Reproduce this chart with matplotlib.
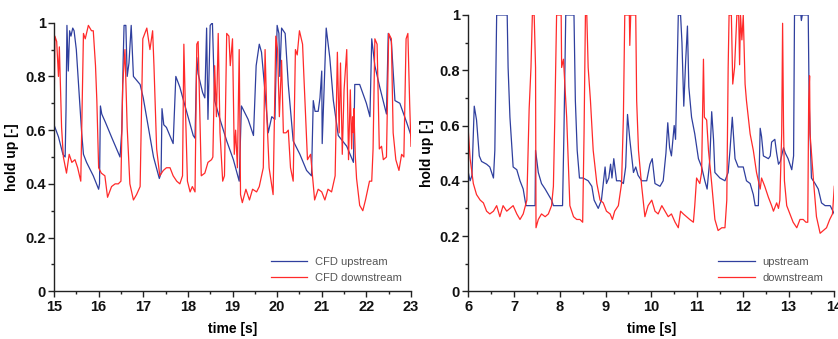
import matplotlib
matplotlib.use("Agg")
import matplotlib.pyplot as plt
from matplotlib.ticker import MultipleLocator

plt.rcParams['font.family'] = ['Liberation Sans', 'DejaVu Sans']

# ---------------- left panel data (CFD) ----------------
cfd_up_t = [15.00, 15.10, 15.20, 15.25, 15.27, 15.29, 15.32, 15.35, 15.38, 15.42, 15.45, 15.50,
            15.55, 15.62, 15.66, 15.73, 15.88, 16.00, 16.02, 16.04, 16.07, 16.15, 16.30, 16.48,
            16.52, 16.55, 16.57, 16.61, 16.64, 16.68, 16.73, 16.78, 16.93, 17.00, 17.23, 17.36,
            17.40, 17.42, 17.46, 17.52, 17.67, 17.73, 17.82, 17.97, 18.12, 18.16, 18.20, 18.23,
            18.33, 18.38, 18.42, 18.45, 18.50, 18.55, 18.60, 18.72, 18.87, 19.02, 19.15, 19.20,
            19.26, 19.35, 19.47, 19.53, 19.60, 19.65, 19.73, 19.80, 19.88, 19.95, 20.00, 20.04,
            20.06, 20.10, 20.18, 20.25, 20.36, 20.51, 20.66, 20.77, 20.81, 20.85, 20.92, 20.96,
            21.00, 21.01, 21.10, 21.18, 21.26, 21.37, 21.56, 21.71, 21.74, 21.85, 22.00, 22.08,
            22.12, 22.19, 22.30, 22.45, 22.49, 22.56, 22.64, 22.75, 22.90, 23.00]
cfd_up_v = [0.62, 0.575, 0.51, 0.50, 0.68, 0.99, 0.82, 0.97, 0.95, 0.98, 0.97, 0.90,
            0.77, 0.59, 0.51, 0.48, 0.43, 0.38, 0.40, 0.69, 0.66, 0.63, 0.57, 0.50,
            0.60, 0.86, 0.99, 0.99, 0.80, 0.85, 0.99, 0.80, 0.77, 0.72, 0.50, 0.42,
            0.44, 0.68, 0.62, 0.61, 0.55, 0.80, 0.76, 0.67, 0.58, 0.57, 0.87, 0.81,
            0.74, 0.72, 0.98, 0.64, 0.99, 1.00, 0.71, 0.64, 0.56, 0.49, 0.41, 0.69,
            0.67, 0.64, 0.58, 0.84, 0.92, 0.89, 0.74, 0.59, 0.65, 0.64, 0.99, 0.96,
            0.80, 0.98, 0.96, 0.77, 0.56, 0.51, 0.45, 0.43, 0.71, 0.67, 0.67, 0.72,
            0.82, 0.55, 0.98, 0.87, 0.71, 0.58, 0.54, 0.48, 0.77, 0.77, 0.70, 0.65,
            0.94, 0.84, 0.76, 0.66, 0.96, 0.93, 0.71, 0.70, 0.63, 0.58]

cfd_down_t = [15.00, 15.02, 15.06, 15.10, 15.12, 15.17, 15.21, 15.28, 15.34, 15.40, 15.47, 15.53,
              15.60, 15.66, 15.70, 15.77, 15.84, 15.88, 15.93, 15.96, 16.00, 16.06, 16.14, 16.20,
              16.29, 16.37, 16.44, 16.50, 16.54, 16.59, 16.64, 16.70, 16.78, 16.85, 16.93, 16.99,
              17.08, 17.15, 17.21, 17.24, 17.30, 17.37, 17.45, 17.52, 17.60, 17.67, 17.75, 17.82,
              17.88, 17.91, 17.94, 17.99, 18.05, 18.10, 18.16, 18.20, 18.23, 18.27, 18.30, 18.38,
              18.45, 18.53, 18.56, 18.60, 18.64, 18.68, 18.72, 18.78, 18.82, 18.87, 18.92, 18.95,
              19.00, 19.04, 19.07, 19.11, 19.15, 19.18, 19.22, 19.30, 19.38, 19.45, 19.54, 19.60,
              19.69, 19.73, 19.77, 19.82, 19.91, 19.97, 20.01, 20.05, 20.10, 20.14, 20.20, 20.25,
              20.30, 20.36, 20.41, 20.45, 20.50, 20.57, 20.60, 20.68, 20.75, 20.84, 20.92, 21.00,
              21.07, 21.14, 21.22, 21.30, 21.35, 21.39, 21.42, 21.46, 21.50, 21.56, 21.60, 21.64,
              21.67, 21.69, 21.71, 21.72, 21.75, 21.78, 21.85, 21.92, 21.98, 22.07, 22.12, 22.15,
              22.19, 22.24, 22.29, 22.34, 22.38, 22.45, 22.50, 22.56, 22.60, 22.66, 22.73, 22.79,
              22.84, 22.89, 22.93, 22.97, 23.00]
cfd_down_v = [0.63, 0.95, 0.93, 0.80, 0.91, 0.61, 0.50, 0.44, 0.51, 0.48, 0.49, 0.46,
              0.41, 0.96, 0.94, 0.99, 0.97, 0.97, 0.84, 0.71, 0.46, 0.44, 0.43, 0.35,
              0.39, 0.40, 0.40, 0.41, 0.77, 0.90, 0.61, 0.40, 0.34, 0.36, 0.39, 0.94,
              0.98, 0.90, 0.97, 0.84, 0.53, 0.43, 0.45, 0.46, 0.46, 0.43, 0.41, 0.40,
              0.43, 0.92, 0.71, 0.41, 0.37, 0.39, 0.37, 0.92, 0.93, 0.65, 0.43, 0.44,
              0.48, 0.49, 0.50, 0.84, 0.65, 0.96, 0.59, 0.41, 0.43, 0.96, 0.95, 0.84,
              0.94, 0.51, 0.60, 0.46, 0.90, 0.36, 0.33, 0.38, 0.34, 0.38, 0.37, 0.39,
              0.46, 0.90, 0.65, 0.46, 0.36, 0.95, 0.90, 0.65, 0.86, 0.59, 0.59, 0.60,
              0.46, 0.41, 0.90, 0.88, 0.97, 0.92, 0.80, 0.49, 0.51, 0.34, 0.38, 0.37,
              0.34, 0.38, 0.37, 0.43, 0.89, 0.59, 0.85, 0.51, 0.75, 0.90, 0.49, 0.75,
              0.53, 0.65, 0.59, 0.68, 0.51, 0.42, 0.32, 0.30, 0.34, 0.41, 0.41, 0.53,
              0.94, 0.92, 0.53, 0.54, 0.49, 0.50, 0.96, 0.94, 0.59, 0.49, 0.45, 0.51,
              0.50, 0.94, 0.96, 0.70, 0.54]

# ---------------- right panel data (experiment) ----------------
exp_up_t = [6.00, 6.04, 6.08, 6.13, 6.18, 6.24, 6.29, 6.40, 6.47, 6.51, 6.55, 6.58, 6.62,
            6.85, 6.87, 6.91, 6.98, 7.06, 7.13, 7.20, 7.26, 7.46, 7.47, 7.53, 7.60, 7.68,
            7.75, 7.82, 7.86, 8.06, 8.09, 8.13, 8.31, 8.34, 8.38, 8.43, 8.51, 8.62, 8.70,
            8.75, 8.84, 8.91, 8.99, 9.02, 9.07, 9.11, 9.14, 9.18, 9.24, 9.32, 9.39, 9.44,
            9.48, 9.53, 9.61, 9.66, 9.71, 9.79, 9.90, 9.97, 10.02, 10.08, 10.19, 10.26, 10.32,
            10.36, 10.40, 10.44, 10.50, 10.53, 10.55, 10.59, 10.64, 10.67, 10.71, 10.75, 10.79,
            10.82, 10.88, 10.95, 11.03, 11.10, 11.17, 11.22, 11.28, 11.32, 11.36, 11.39, 11.50,
            11.61, 11.68, 11.72, 11.77, 11.83, 11.90, 12.01, 12.08, 12.16, 12.23, 12.27, 12.34,
            12.38, 12.41, 12.45, 12.56, 12.60, 12.63, 12.70, 12.74, 12.78, 12.82, 12.89, 12.93,
            12.99, 13.07, 13.11, 13.13, 13.27, 13.28, 13.30, 13.43, 13.45, 13.50, 13.58, 13.65,
            13.72, 13.80, 13.91, 14.00]
exp_up_v = [0.43, 0.40, 0.42, 0.67, 0.62, 0.49, 0.47, 0.46, 0.45, 0.43, 0.41, 0.51, 1.00,
            1.00, 0.81, 0.63, 0.45, 0.44, 0.40, 0.37, 0.31, 0.31, 0.51, 0.43, 0.39, 0.37,
            0.35, 0.33, 0.31, 0.31, 0.57, 1.00, 1.00, 0.69, 0.51, 0.41, 0.41, 0.40, 0.38,
            0.33, 0.30, 0.33, 0.45, 0.39, 0.41, 0.46, 0.41, 0.48, 0.40, 0.40, 0.39, 0.45,
            0.64, 0.55, 0.43, 0.45, 0.42, 0.40, 0.40, 0.46, 0.48, 0.39, 0.38, 0.40, 0.50,
            0.61, 0.52, 0.49, 0.60, 0.55, 0.69, 1.00, 1.00, 0.90, 0.67, 0.83, 0.96,
            0.74, 0.63, 0.57, 0.48, 0.45, 0.40, 0.37, 0.48, 0.65, 0.55, 0.43, 0.41,
            0.40, 0.43, 0.51, 0.63, 0.48, 0.45, 0.45, 0.40, 0.39, 0.35, 0.31, 0.31,
            0.59, 0.56, 0.49, 0.48, 0.49, 0.54, 0.55, 0.50, 0.46, 0.47, 0.52, 0.50,
            0.48, 0.44, 0.49, 1.00, 1.00, 0.98, 1.00, 1.00, 0.69, 0.41, 0.39, 0.37,
            0.32, 0.31, 0.31, 0.28]

exp_down_t = [6.00, 6.04, 6.11, 6.18, 6.26, 6.33, 6.40, 6.47, 6.55, 6.62, 6.69, 6.76, 6.84,
              6.91, 6.98, 7.06, 7.13, 7.20, 7.28, 7.33, 7.37, 7.40, 7.44, 7.47, 7.48, 7.53,
              7.60, 7.68, 7.75, 7.82, 7.86, 7.89, 7.93, 8.03, 8.04, 8.08, 8.11, 8.15, 8.19,
              8.22, 8.30, 8.37, 8.44, 8.50, 8.53, 8.56, 8.59, 8.62, 8.67, 8.73, 8.81, 8.88,
              8.95, 9.02, 9.10, 9.15, 9.20, 9.28, 9.35, 9.39, 9.42, 9.52, 9.53, 9.55, 9.66,
              9.68, 9.72, 9.79, 9.86, 9.93, 10.01, 10.08, 10.15, 10.23, 10.30, 10.37, 10.44,
              10.52, 10.59, 10.64, 10.70, 10.77, 10.84, 10.92, 10.95, 10.99, 11.06, 11.10, 11.14,
              11.16, 11.21, 11.25, 11.32, 11.39, 11.46, 11.54, 11.61, 11.65, 11.68, 11.70, 11.75,
              11.78, 11.82, 11.87, 11.91, 11.93, 11.95, 11.98, 12.01, 12.05, 12.08, 12.16, 12.23,
              12.30, 12.38, 12.41, 12.48, 12.56, 12.63, 12.67, 12.74, 12.78, 12.81, 12.85, 12.87,
              12.89, 12.91, 12.96, 13.03, 13.10, 13.18, 13.25, 13.32, 13.38, 13.42, 13.44, 13.46,
              13.47, 13.55, 13.61, 13.69, 13.76, 13.83, 13.90, 13.96, 14.00]
exp_down_v = [0.58, 0.48, 0.39, 0.35, 0.33, 0.32, 0.29, 0.28, 0.29, 0.31, 0.27, 0.31, 0.29,
              0.30, 0.31, 0.28, 0.26, 0.28, 0.33, 0.66, 0.81, 1.00, 1.00, 0.81, 0.23, 0.26,
              0.28, 0.27, 0.28, 0.31, 0.38, 0.62, 1.00, 1.00, 0.81, 0.84, 0.75, 0.63, 0.45,
              0.31, 0.27, 0.26, 0.26, 0.25, 0.57, 1.00, 1.00, 0.81, 0.69, 0.51, 0.39, 0.33,
              0.32, 0.29, 0.28, 0.26, 0.29, 0.31, 0.39, 0.63, 1.00, 1.00, 0.89, 1.00, 1.00,
              0.69, 0.51, 0.38, 0.27, 0.31, 0.33, 0.29, 0.28, 0.31, 0.29, 0.27, 0.28,
              0.25, 0.23, 0.29, 0.28, 0.27, 0.26, 0.25, 0.31, 0.41, 0.39, 0.43, 0.84,
              0.63, 0.62, 0.51, 0.39, 0.26, 0.22, 0.23, 0.23, 0.33, 0.81, 1.00, 1.00,
              0.75, 0.81, 1.00, 1.00, 0.82, 1.00, 0.91, 1.00, 0.75, 0.69, 0.57, 0.51,
              0.43, 0.37, 0.41, 0.38, 0.34, 0.31, 0.29, 0.32, 0.30, 0.33, 0.57, 0.97,
              0.60, 0.40, 0.31, 0.28, 0.25, 0.23, 0.26, 0.26, 0.25, 0.25, 0.69, 0.78,
              0.57, 0.39, 0.27, 0.21, 0.22, 0.23, 0.26, 0.28, 0.38]

left_xticks = [15, 16, 17, 18, 19, 20, 21, 22, 23]
right_xticks = [6, 7, 8, 9, 10, 11, 12, 13, 14]
yticks = [0, 0.2, 0.4, 0.6, 0.8, 1]
ytick_labels = ['0', '0.2', '0.4', '0.6', '0.8', '1']

BLUE = '#2f3f9e'
RED = '#ff2a2a'

fig = plt.figure(figsize=(8.38, 3.39), dpi=100)
ax1 = fig.add_axes([54 / 838, 1 - 291.3 / 339, (411 - 54) / 838, (291.3 - 22.7) / 339])
ax2 = fig.add_axes([468.3 / 838, 1 - 291.3 / 339, (834.3 - 468.3) / 838, (291.3 - 15) / 339])


def style(ax, xticks, anchor):
    ax.set_ylim(0, 1)
    ax.set_xlim(xticks[0], xticks[-1])
    for s in ('top', 'right'):
        ax.spines[s].set_visible(False)
    for s in ('left', 'bottom'):
        ax.spines[s].set_linewidth(1.0)
        ax.spines[s].set_color('#222222')
    ax.set_xticks(xticks)
    ax.set_xticklabels([str(x) for x in xticks])
    ax.set_yticks(yticks)
    ax.set_yticklabels(ytick_labels)
    ax.xaxis.set_minor_locator(MultipleLocator(0.5))
    ax.yaxis.set_minor_locator(MultipleLocator(0.1))
    ax.tick_params(which='major', direction='out', length=4, width=1, color='#222222',
                   labelsize=10.5, pad=2)
    ax.tick_params(which='minor', direction='out', length=2.5, width=1, color='#222222')
    for lab in ax.get_xticklabels() + ax.get_yticklabels():
        lab.set_fontweight('bold')
        lab.set_color('#111111')
    ax.set_xlabel('time [s]', fontsize=10, fontweight='bold', labelpad=6)
    ax.set_ylabel('hold up [-]', fontsize=10, fontweight='bold', labelpad=4)
    leg = ax.legend(loc='lower right', frameon=False, fontsize=8, handlelength=3.3,
                    handletextpad=0.7, labelspacing=0.55, bbox_to_anchor=anchor)
    for txt in leg.get_texts():
        txt.set_color('#555555')


ax1.plot(cfd_up_t, cfd_up_v, color=BLUE, lw=0.9, label='CFD upstream')
ax1.plot(cfd_down_t, cfd_down_v, color=RED, lw=0.9, label='CFD downstream')
style(ax1, left_xticks, (1.003, -0.005))

ax2.plot(exp_up_t, exp_up_v, color=BLUE, lw=0.9, label='upstream')
ax2.plot(exp_down_t, exp_down_v, color=RED, lw=0.9, label='downstream')
style(ax2, right_xticks, (0.997, -0.005))

fig.savefig('out.png', dpi=100)
